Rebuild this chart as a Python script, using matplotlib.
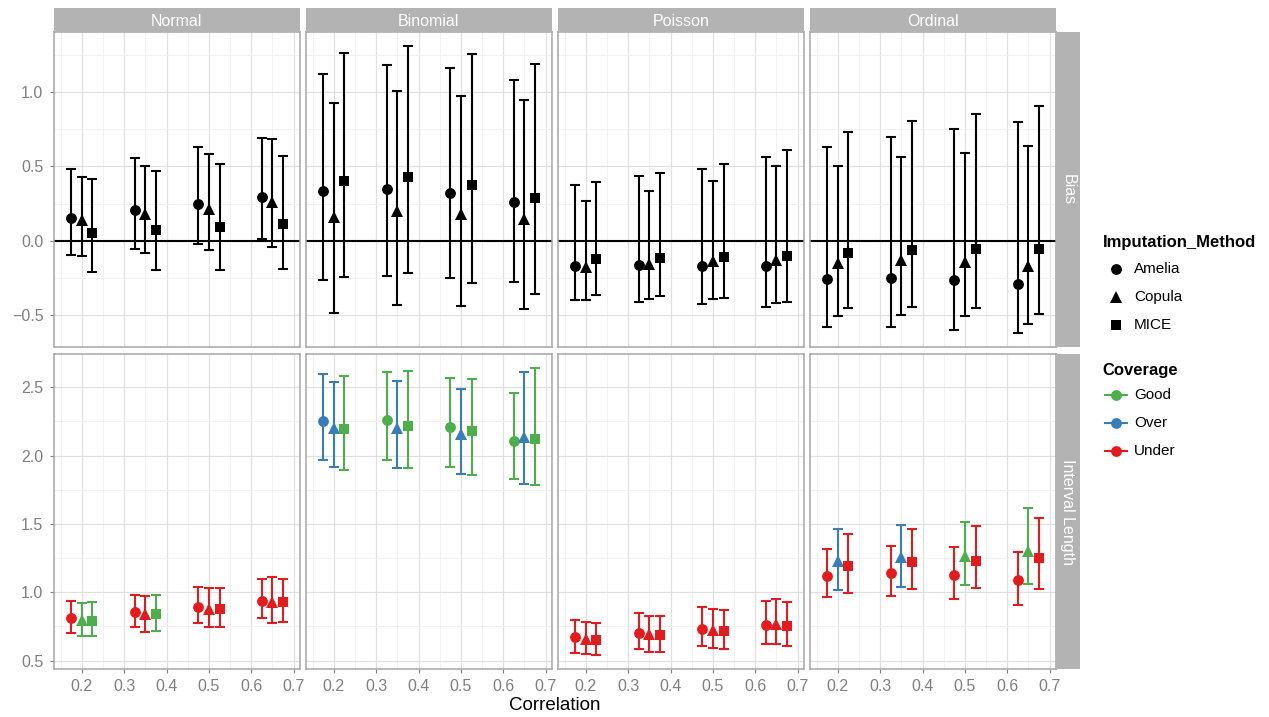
#!/usr/bin/env python3
"""
Bias and interval length by correlation, facetted by outcome family.
"""

import matplotlib
matplotlib.use("Agg")
import matplotlib.pyplot as plt
from matplotlib.ticker import MultipleLocator
from matplotlib.lines import Line2D

plt.rcParams["font.family"] = ["Liberation Sans", "DejaVu Sans"]

# ---- data (rows: correlation, columns: Amelia, Copula, MICE) ----
correlations = [0.2, 0.35, 0.5, 0.65]
methods = ["Amelia", "Copula", "MICE"]
families = ["Normal", "Binomial", "Poisson", "Ordinal"]

normal_bias = [[0.153, 0.14, 0.054], [0.205, 0.18, 0.072], [0.248, 0.215, 0.095], [0.297, 0.257, 0.115]]
normal_bias_lo = [[-0.095, -0.104, -0.21], [-0.056, -0.081, -0.2], [-0.02, -0.063, -0.198], [0.014, -0.043, -0.194]]
normal_bias_hi = [[0.484, 0.43, 0.417], [0.559, 0.505, 0.468], [0.63, 0.586, 0.518], [0.694, 0.682, 0.572]]

binomial_bias = [[0.333, 0.16, 0.405], [0.351, 0.2, 0.432], [0.324, 0.182, 0.372], [0.261, 0.144, 0.29]]
binomial_bias_lo = [[-0.266, -0.491, -0.243], [-0.239, -0.437, -0.218], [-0.254, -0.441, -0.284], [-0.279, -0.464, -0.358]]
binomial_bias_hi = [[1.124, 0.926, 1.268], [1.182, 1.007, 1.315], [1.167, 0.973, 1.257], [1.081, 0.946, 1.191]]

poisson_bias = [[-0.171, -0.178, -0.124], [-0.167, -0.155, -0.119], [-0.171, -0.14, -0.113], [-0.173, -0.128, -0.106]]
poisson_bias_lo = [[-0.401, -0.401, -0.367], [-0.414, -0.396, -0.376], [-0.43, -0.392, -0.385], [-0.45, -0.423, -0.417]]
poisson_bias_hi = [[0.374, 0.264, 0.392], [0.439, 0.333, 0.457], [0.486, 0.4, 0.518], [0.563, 0.5, 0.61]]

ordinal_bias = [[-0.259, -0.151, -0.086], [-0.252, -0.133, -0.065], [-0.268, -0.146, -0.059], [-0.295, -0.171, -0.059]]
ordinal_bias_lo = [[-0.581, -0.511, -0.453], [-0.586, -0.5, -0.446], [-0.604, -0.507, -0.455], [-0.626, -0.563, -0.498]]
ordinal_bias_hi = [[0.633, 0.505, 0.73], [0.7, 0.561, 0.804], [0.755, 0.59, 0.854], [0.797, 0.637, 0.905]]

normal_len = [[0.815, 0.80, 0.79], [0.859, 0.84, 0.839], [0.895, 0.88, 0.878], [0.937, 0.93, 0.927]]
normal_len_lo = [[0.705, 0.68, 0.68], [0.744, 0.71, 0.72], [0.773, 0.744, 0.749], [0.815, 0.778, 0.783]]
normal_len_hi = [[0.939, 0.924, 0.929], [0.983, 0.973, 0.983], [1.039, 1.032, 1.032], [1.095, 1.112, 1.10]]
normal_cov = [["Under", "Good", "Good"], ["Under", "Under", "Good"], ["Under", "Under", "Under"], ["Under", "Under", "Under"]]

binomial_len = [[2.254, 2.2, 2.198], [2.261, 2.2, 2.22], [2.21, 2.156, 2.178], [2.11, 2.134, 2.124]]
binomial_len_lo = [[1.971, 1.915, 1.898], [1.966, 1.912, 1.912], [1.92, 1.866, 1.861], [1.827, 1.793, 1.788]]
binomial_len_hi = [[2.598, 2.539, 2.58], [2.61, 2.546, 2.62], [2.568, 2.49, 2.561], [2.461, 2.615, 2.641]]
binomial_cov = [["Over", "Over", "Good"], ["Good", "Over", "Good"], ["Good", "Over", "Good"], ["Good", "Over", "Good"]]

poisson_len = [[0.671, 0.66, 0.649], [0.705, 0.695, 0.688], [0.732, 0.724, 0.717], [0.763, 0.768, 0.754]]
poisson_len_lo = [[0.559, 0.546, 0.539], [0.588, 0.566, 0.566], [0.607, 0.593, 0.588], [0.624, 0.622, 0.61]]
poisson_len_hi = [[0.795, 0.783, 0.776], [0.849, 0.827, 0.827], [0.895, 0.88, 0.871], [0.937, 0.951, 0.93]]
poisson_cov = [["Under", "Under", "Under"]] * 4

ordinal_len = [[1.122, 1.232, 1.19], [1.141, 1.256, 1.22], [1.127, 1.266, 1.227], [1.09, 1.30, 1.249]]
ordinal_len_lo = [[0.963, 1.02, 0.998], [0.973, 1.039, 1.027], [0.954, 1.054, 1.032], [0.905, 1.061, 1.027]]
ordinal_len_hi = [[1.317, 1.463, 1.427], [1.339, 1.493, 1.463], [1.332, 1.512, 1.483], [1.298, 1.617, 1.544]]
ordinal_cov = [["Under", "Over", "Under"], ["Under", "Over", "Under"], ["Under", "Good", "Under"], ["Under", "Good", "Under"]]

bias_data = [
    (normal_bias, normal_bias_lo, normal_bias_hi),
    (binomial_bias, binomial_bias_lo, binomial_bias_hi),
    (poisson_bias, poisson_bias_lo, poisson_bias_hi),
    (ordinal_bias, ordinal_bias_lo, ordinal_bias_hi),
]
len_data = [
    (normal_len, normal_len_lo, normal_len_hi, normal_cov),
    (binomial_len, binomial_len_lo, binomial_len_hi, binomial_cov),
    (poisson_len, poisson_len_lo, poisson_len_hi, poisson_cov),
    (ordinal_len, ordinal_len_lo, ordinal_len_hi, ordinal_cov),
]

# ---- styles ----
cov_colors = {"Good": "#4DAF4A", "Over": "#377EB8", "Under": "#E41A1C"}
markers = {"Amelia": "o", "Copula": "^", "MICE": "s"}
msizes = {"Amelia": 7.8, "Copula": 8.6, "MICE": 7.9}
dodge = [-0.025, 0.0, 0.025]
GRAY_TXT = "#7f7f7f"
BORDER = "#a6a6a6"
STRIP = "#b3b3b3"

W, H = 1269, 717
fig = plt.figure(figsize=(W / 100, H / 100), dpi=100)


def rect(left, top, w, h):
    return [left / W, 1 - (top + h) / H, w / W, h / H]


panel_left = [53.5, 305.5, 557.5, 809.5]
panel_w = 246.5
row_top = [32, 354]
row_h = 315.2


def style_axes(ax, row, col):
    ax.set_xlim(0.133, 0.715)
    if row == 0:
        ax.set_ylim(-0.719, 1.407)
    else:
        ax.set_ylim(0.437, 2.744)
    ax.yaxis.set_major_locator(MultipleLocator(0.5))
    ax.yaxis.set_minor_locator(MultipleLocator(0.25))
    ax.xaxis.set_major_locator(MultipleLocator(0.1))
    ax.xaxis.set_minor_locator(MultipleLocator(0.05))
    ax.set_axisbelow(True)
    ax.grid(True, which="major", color="#e0e0e0", lw=0.9)
    ax.grid(True, which="minor", color="#f1f1f1", lw=0.7)
    for sp in ax.spines.values():
        sp.set_color(BORDER)
        sp.set_linewidth(1.1)
    ax.tick_params(which="minor", length=0)
    ax.tick_params(which="major", color=GRAY_TXT, length=3.2, width=0.8,
                   labelcolor=GRAY_TXT, labelsize=11.5)
    ax.tick_params(axis="y", pad=4)
    ax.tick_params(axis="x", pad=4)
    if row == 0:
        ax.tick_params(axis="x", length=0, labelbottom=False)
    else:
        ax.set_xticks([0.2, 0.3, 0.4, 0.5, 0.6, 0.7])
        ax.set_xticklabels(["0.2", "0.3", "0.4", "0.5", "0.6", "0.7"])
    if col != 0:
        ax.tick_params(axis="y", length=0, labelleft=False)


for row in range(2):
    for col in range(4):
        ax = fig.add_axes(rect(panel_left[col], row_top[row], panel_w, row_h))
        style_axes(ax, row, col)
        if row == 0:
            ax.axhline(0, color="black", lw=1.5, zorder=2)
            est, lo, hi = bias_data[col]
        else:
            est, lo, hi, cov = len_data[col]
        for i, c in enumerate(correlations):
            for j, m in enumerate(methods):
                x = c + dodge[j]
                y = est[i][j]
                colr = "black" if row == 0 else cov_colors[cov[i][j]]
                ax.errorbar([x], [y], yerr=[[y - lo[i][j]], [hi[i][j] - y]],
                            fmt="none", ecolor=colr, elinewidth=1.5,
                            capsize=3.8, capthick=1.5, zorder=3)
                ax.plot([x], [y], marker=markers[m], ms=msizes[m], color=colr,
                        mew=0, ls="none", zorder=4)

# ---- strips ----
for col, name in enumerate(families):
    sax = fig.add_axes(rect(panel_left[col], 8, panel_w, 24))
    sax.set_facecolor(STRIP)
    sax.set_xticks([])
    sax.set_yticks([])
    for sp in sax.spines.values():
        sp.set_visible(False)
    sax.text(0.5, 0.45, name, color="white", fontsize=11.5,
             ha="center", va="center", transform=sax.transAxes)

for row, name in enumerate(["Bias", "Interval Length"]):
    sax = fig.add_axes(rect(1056, row_top[row], 24, row_h))
    sax.set_facecolor(STRIP)
    sax.set_xticks([])
    sax.set_yticks([])
    for sp in sax.spines.values():
        sp.set_visible(False)
    sax.text(0.5, 0.5, name, color="white", fontsize=11.5, rotation=-90,
             ha="center", va="center", transform=sax.transAxes)

fig.text((53.5 + 1056) / 2 / W, 1 - 705.5 / H, "Correlation",
         fontsize=13.5, ha="center", va="center")

# ---- legends ----
lax = fig.add_axes([0, 0, 1, 1])
lax.set_xlim(0, W)
lax.set_ylim(H, 0)
lax.axis("off")

lax.text(1102.5, 242.5, "Imputation_Method", fontsize=12, fontweight="bold",
         ha="left", va="center")
for k, m in enumerate(methods):
    yy = [269.3, 297.0, 324.7][k]
    lax.plot([1116], [yy], marker=markers[m], ms=msizes[m], color="black",
             mew=0, ls="none")
    lax.text(1134, yy, m, fontsize=11, ha="left", va="center")

lax.text(1102.5, 370, "Coverage", fontsize=12, fontweight="bold",
         ha="left", va="center")
for k, cname in enumerate(["Good", "Over", "Under"]):
    yy = [395.3, 423.0, 450.7][k]
    lax.add_line(Line2D([1105, 1127], [yy, yy], color=cov_colors[cname], lw=1.5))
    lax.plot([1116], [yy], marker="o", ms=7.8, color=cov_colors[cname],
             mew=0, ls="none")
    lax.text(1134, yy, cname, fontsize=11, ha="left", va="center")

fig.savefig("out.png", dpi=100)
